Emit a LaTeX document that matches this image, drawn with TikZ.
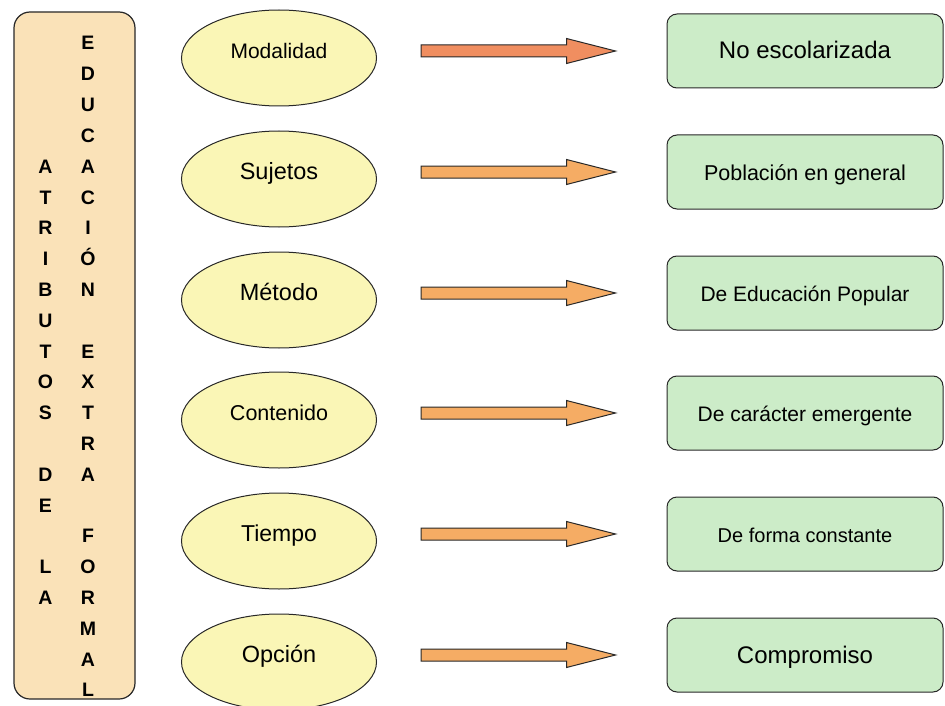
\documentclass[tikz,border=0pt]{standalone}
\usepackage{fontspec}
\setmainfont{Liberation Sans}
\usetikzlibrary{shapes.geometric,calc}

\definecolor{borde}{RGB}{40,40,40}
\definecolor{durazno}{RGB}{250,226,184}
\definecolor{amarillo}{RGB}{250,246,182}
\definecolor{verde}{RGB}{204,236,200}
\definecolor{naranja}{RGB}{245,172,100}
\definecolor{salmon}{RGB}{240,142,96}

\newcommand{\tam}[1]{\fontsize{#1}{#1}\selectfont}

\tikzset{
	marco/.style={draw=borde, line width=1.2pt, fill=durazno, rounded corners=16pt, minimum width=121pt, minimum height=687pt, inner sep=0pt},
	letra/.style={font=\bfseries\tam{19.5}, inner sep=0pt, text height=14pt, text depth=0pt},
	elipse/.style={ellipse, draw=borde, line width=1pt, fill=amarillo, minimum width=195pt, minimum height=96pt, inner sep=0pt, text height=15pt, text depth=14pt},
	caja/.style={draw=borde, line width=1pt, fill=verde, rounded corners=10pt, minimum width=276pt, minimum height=74pt, inner sep=0pt, text height=16pt, text depth=0pt},
	flecha/.style={draw=borde, line width=1pt, fill=naranja, to path={let \p1=(\tikztostart.east), \p2=(\tikztotarget.west) in
		(\x1+44pt,\y2+6pt) -- (\x2-100pt,\y2+6pt) -- (\x2-100pt,\y2+12.5pt) -- (\x2-51pt,\y2)
		-- (\x2-100pt,\y2-12.5pt) -- (\x2-100pt,\y2-6pt) -- (\x1+44pt,\y2-6pt) -- cycle}}
}

\begin{document}
\begin{tikzpicture}[x=1pt,y=-1pt]
	\path[use as bounding box, fill=white] (0,0) rectangle (945,706);

	% columna de la izquierda
	\node[marco] (marco) at (74.5,355.5) {};
	\foreach \l/\i in {A/5,T/6,R/7,I/8,B/9,U/10,T/11,O/12,S/13,D/15,E/16,L/18,A/19}
		\node[letra] (izq-\i) at (45.5,{43+30.8*(\i-1)}) {\l};
	\foreach \l/\i in {E/1,D/2,U/3,C/4,A/5,C/6,I/7,Ó/8,N/9,E/11,X/12,T/13,R/14,A/15,F/17,O/18,R/19,M/20,A/21,L/22}
		\node[letra] (der-\i) at (88,{43+30.8*(\i-1)}) {\l};

	% atributos
	\node[elipse, font=\tam{21}] (mod) at (279,58) {Modalidad};
	\node[elipse, font=\tam{23.5}] (suj) at (279,179) {Sujetos};
	\node[elipse, font=\tam{23.5}] (met) at (279,300) {Método};
	\node[elipse, font=\tam{21.5}] (con) at (279,420) {Contenido};
	\node[elipse, font=\tam{23}] (tie) at (279,541) {Tiempo};
	\node[elipse, font=\tam{23.5}] (opc) at (279,662) {Opción};

	% valores
	\node[caja, font=\tam{24}] (nes) at (805,51) {No escolarizada};
	\node[caja, font=\tam{21.5}] (pob) at (805,172) {Población en general};
	\node[caja, font=\tam{21}] (edp) at (805,293) {De Educación Popular};
	\node[caja, font=\tam{21}] (emr) at (805,413) {De carácter emergente};
	\node[caja, font=\tam{20}] (cte) at (805,534) {De forma constante};
	\node[caja, font=\tam{24}] (cmp) at (805,655) {Compromiso};

	\draw[flecha, fill=salmon] (mod) to (nes);
	\draw[flecha] (suj) to (pob);
	\draw[flecha] (met) to (edp);
	\draw[flecha] (con) to (emr);
	\draw[flecha] (tie) to (cte);
	\draw[flecha] (opc) to (cmp);
\end{tikzpicture}
\end{document}
